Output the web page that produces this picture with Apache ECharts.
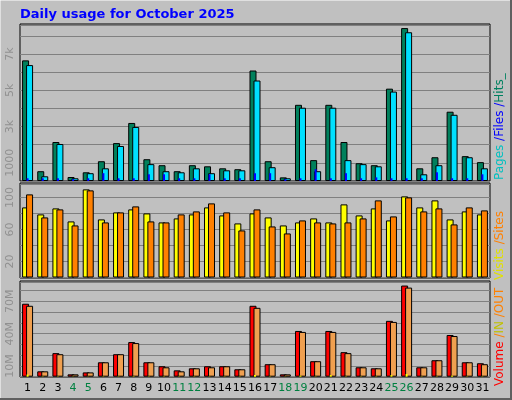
<!DOCTYPE html>
<html><head><meta charset="utf-8">
<script src="https://cdn.jsdelivr.net/npm/echarts@6/dist/echarts.min.js"></script>
<style>html,body{margin:0;padding:0;background:#c0c0c0}#c{width:512px;height:400px}</style>
</head><body><div id="c"></div>
<script>
const days = ['1','2','3','4','5','6','7','8','9','10','11','12','13','14','15','16','17','18','19','20','21','22','23','24','25','26','27','28','29','30','31'];
const weekendDays = ['4','5','11','12','18','19','25','26'];
const hits  = [6650,540,2150,220,480,1090,2090,3200,1200,870,540,870,810,700,650,6090,1090,200,4200,1150,4200,2150,980,870,5090,8430,700,1310,3820,1370,1040];
const files = [6390,260,2040,150,430,700,1930,2980,930,540,480,700,430,590,590,5540,760,150,4040,540,4040,1150,930,810,4930,8200,370,870,3650,1310,700];
const pages = [150,150,150,100,150,430,150,150,370,370,150,150,370,150,150,430,430,100,150,650,150,430,150,200,150,150,150,480,150,150,370];
const visits = [87.5,78.75,86.25,70,110,72.5,81.25,85,80,68.75,73.75,78.75,87.5,77.5,67.5,80,75,65,68.75,73.75,68.75,91.25,77.5,86.25,71.25,101.25,87.5,96.25,72.5,82.5,78.75];
const sites  = [103.75,75,85,65,108.75,68.75,81.25,88.75,70,68.75,78.75,82.5,92.5,81.25,58.75,85,63.75,55,71.25,68.75,67.5,68.75,73.75,96.25,76.25,100,82.5,86.25,66.25,87.5,83.75];
const volume = [67.8,5,21.9,2.2,4,13.4,20.9,32.2,13.4,9.7,5.9,7.8,9.7,9.7,6.9,65.9,11.6,2.2,42.5,14.4,42.5,22.8,8.75,7.8,51.9,84.7,8.75,15.3,38.75,13.4,12.5];
const volOut = [65.9,5,20.9,2.2,4,13.4,20.9,31.25,13.4,8.75,5,7.8,8.75,9.7,6.9,64,11.6,2.2,41.6,14.4,41.6,21.9,8.75,7.8,50.9,82.8,8.75,15.3,37.8,13.4,11.6];
const volIn  = [2,0.3,0.3,0.2,0.2,0.3,0.3,0.4,0.3,0.3,0.3,0.3,0.3,0.3,0.3,1.5,0.3,0.2,1,0.3,1.5,0.3,0.3,0.3,1.5,2.5,0.3,0.3,1,0.3,0.3];
const topLabels = {1000:'1000',3000:'3k',5000:'5k',7000:'7k'};
const midLabels = {20:'20',60:'60',100:'100'};
const botLabels = {10:'10M',40:'40M',70:'70M'};

const F = 'DejaVu Sans, sans-serif';
const grids = [
  {left:20,right:22,top:25,height:156},
  {left:20,right:22,top:184,height:93.5},
  {left:20,right:22,top:282,height:94.7}
];
function xA(i, show){
  return {type:'category',gridIndex:i,data:days,axisTick:{show:false},axisLine:{show:false},
    axisLabel:{show:show,interval:0,fontFamily:F,fontSize:11,margin:6,
      color:(v)=>weekendDays.includes(v)?'#008040':'#000'}};
}
function yA(i,max,interval,labels){
  return {type:'value',gridIndex:i,min:0,max:max,interval:interval,
    splitLine:{lineStyle:{color:'#808080',width:1}},axisLine:{show:false},axisTick:{show:false},
    axisLabel:{rotate:90,fontFamily:F,fontSize:11,color:'#909090',margin:4,
      formatter:(v)=>labels[v]||''}};
}
const bs = (c)=>({color:c,borderColor:'#000',borderWidth:1});
const chart = echarts.init(document.getElementById('c'),null,{renderer:'canvas'});
chart.setOption({
  animation:false,
  backgroundColor:'#c0c0c0',
  grid:grids,
  xAxis:[xA(0,false),xA(1,false),xA(2,true),
    Object.assign(xA(0,false),{show:false}),
    Object.assign(xA(2,false),{show:false})],
  yAxis:[yA(0,8600,1000,topLabels),yA(1,116.7,20,midLabels),yA(2,88,10,botLabels)],
  graphic:[
    {type:'rect',shape:{x:0,y:0,width:511,height:399},style:{fill:'none',stroke:'#ffffff',lineWidth:1},z:-1},
    {type:'polyline',shape:{points:[[511,0],[511,399],[0,399]]},style:{stroke:'#606060',lineWidth:2,fill:'none'}},
    {type:'rect',shape:{x:20,y:24,width:470,height:157},style:{fill:'none',stroke:'#000',lineWidth:1}},
    {type:'rect',shape:{x:20,y:183,width:470,height:95},style:{fill:'none',stroke:'#000',lineWidth:1}},
    {type:'rect',shape:{x:20,y:281,width:470,height:96},style:{fill:'none',stroke:'#000',lineWidth:1}},
    {type:'text',x:20,y:8,style:{text:'Daily usage for October 2025',fill:'#0000ff',font:'bold 13px '+F}},
    {type:'text',x:500,y:180,rotation:Math.PI/2,style:{text:'{a|Pages}{b| /}{c|Files}{b| /}{d|Hits_}',verticalAlign:'middle',align:'left',
      rich:{a:{fill:'#00c0c0',font:'12px '+F},b:{fill:'#0000ff',font:'12px '+F},c:{fill:'#0000ff',font:'12px '+F},d:{fill:'#008060',font:'12px '+F}}}},
    {type:'text',x:500,y:280,rotation:Math.PI/2,style:{text:'{a|Visits}{b| /}{c|Sites}',verticalAlign:'middle',align:'left',
      rich:{a:{fill:'#e0e000',font:'12px '+F},b:{fill:'#ff8000',font:'12px '+F},c:{fill:'#ff8000',font:'12px '+F}}}},
    {type:'text',x:500,y:386,rotation:Math.PI/2,style:{text:'{a|Volume}{b| /}{c|IN}{b| /}{d|OUT}',verticalAlign:'middle',align:'left',
      rich:{a:{fill:'#ff0000',font:'12px '+F},b:{fill:'#ff8000',font:'12px '+F},c:{fill:'#c0c000',font:'12px '+F},d:{fill:'#ff8000',font:'12px '+F}}}}
  ],
  series:[
    {type:'bar',xAxisIndex:0,yAxisIndex:0,data:hits,barWidth:7,barGap:'-43%',itemStyle:bs('#00805c')},
    {type:'bar',xAxisIndex:0,yAxisIndex:0,data:files,barWidth:7,barGap:'-43%',itemStyle:bs('#00e0ff')},
    {type:'bar',xAxisIndex:3,yAxisIndex:0,data:pages,barWidth:2,itemStyle:{color:'#0000ff'},z:5},
    {type:'bar',xAxisIndex:1,yAxisIndex:1,data:visits,barWidth:7,barGap:'-43%',itemStyle:bs('#ffff00')},
    {type:'bar',xAxisIndex:1,yAxisIndex:1,data:sites,barWidth:7,barGap:'-43%',itemStyle:bs('#ff8000')},
    {type:'bar',xAxisIndex:2,yAxisIndex:2,data:volume,barWidth:7,barGap:'-43%',itemStyle:bs('#ff0000')},
    {type:'bar',xAxisIndex:2,yAxisIndex:2,data:volOut,barWidth:7,barGap:'-43%',itemStyle:bs('#f0a050')},
    {type:'bar',xAxisIndex:4,yAxisIndex:2,data:volIn,barWidth:2,itemStyle:{color:'#ffff00'},z:5}
  ]
});
</script></body></html>
